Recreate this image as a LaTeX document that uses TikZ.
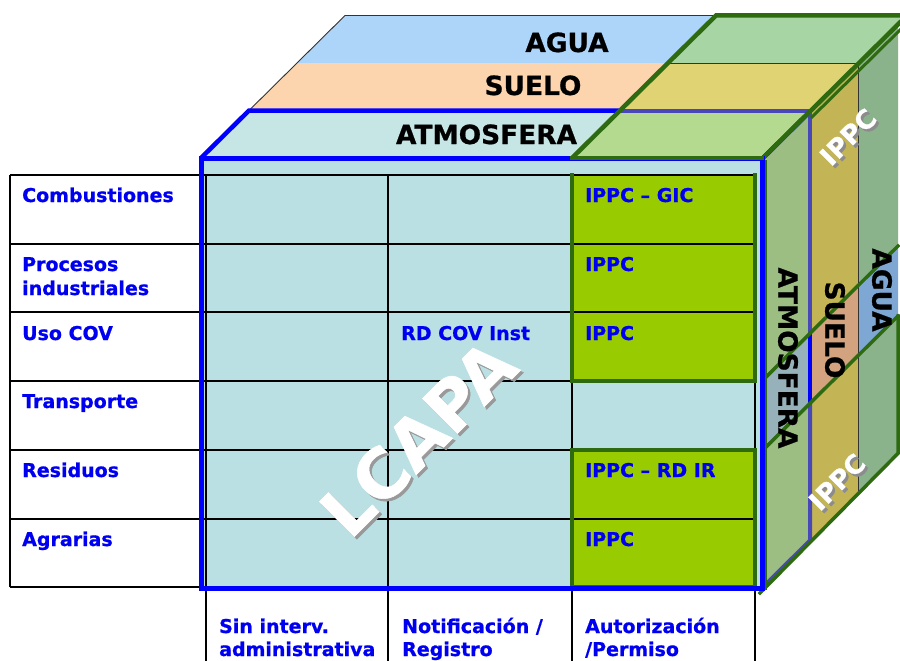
\documentclass[tikz,border=0pt]{standalone}
\usepackage{fontspec}
\setmainfont{DejaVu Sans}[BoldFeatures={FakeBold=0.8}]
\definecolor{frontfill}{HTML}{BAE0E3}
\definecolor{topAtm}{HTML}{C6E6E6}
\definecolor{topAtmG}{HTML}{B3DA8F}
\definecolor{topSue}{HTML}{FCD5AF}
\definecolor{topSueG}{HTML}{DFD374}
\definecolor{topAgu}{HTML}{ADD5FA}
\definecolor{topAguG}{HTML}{A7D6A4}
\definecolor{sideAtm}{HTML}{96B1B9}
\definecolor{sideAtmG}{HTML}{9DBE83}
\definecolor{sideSue}{HTML}{D2A37E}
\definecolor{sideSueG}{HTML}{C3B555}
\definecolor{sideAgu}{HTML}{7EA8D3}
\definecolor{sideAguG}{HTML}{8AB38C}
\definecolor{cellgreen}{HTML}{99CC00}
\definecolor{dkgreen}{HTML}{2E6B10}
\definecolor{labblue}{HTML}{0000F0}
\definecolor{mutedblue}{HTML}{4848B8}
\definecolor{brightblue}{HTML}{0000FF}
\begin{document}
\begin{tikzpicture}[x=1pt,y=-1pt,
  lab/.style={inner sep=0pt, font=\fontsize{19}{24}\selectfont\bfseries, text=labblue, anchor=base west},
  toplab/.style={inner sep=0pt, font=\fontsize{26.4}{30}\selectfont\bfseries, text=black},
  sidelab/.style={toplab, rotate=-90},
  ippc/.style={inner sep=0pt, font=\fontsize{26}{30}\selectfont\bfseries, rotate=45},
  bigl/.style={inner sep=0pt, font=\fontsize{68}{76}\selectfont\bfseries, rotate=45},
  gridl/.style={draw=black, line width=1.3pt},
  thinl/.style={draw=black!80, line width=0.9pt},
  dgreen/.style={draw=dkgreen, line width=4.5pt, line join=miter, line cap=rect},
  bluel/.style={draw=brightblue, line width=4.5pt},
  mbluel/.style={draw=mutedblue, line width=4pt}]
\clip (0,0) rectangle (900,661);
\fill[white] (0,0) rectangle (900,661);

% ---- top face bands
\fill[topAtm]  (201,158) -- (249,110.5) -- (620,110.5) -- (572,158) -- cycle;
\fill[topAtmG] (572,158) -- (620,110.5) -- (810,110.5) -- (762,158) -- cycle;
\fill[topSue]  (249,110.5) -- (297,63) -- (668,63) -- (620,110.5) -- cycle;
\fill[topSueG] (620,110.5) -- (668,63) -- (858,63) -- (810,110.5) -- cycle;
\fill[topAgu]  (297,63) -- (345,15.5) -- (716,15.5) -- (668,63) -- cycle;
\fill[topAguG] (668,63) -- (716,15.5) -- (906,15.5) -- (858,63) -- cycle;

% ---- side face bands
\fill[sideAtmG] (762,158) -- (810,110.5) -- (810,332.5) -- (762,380) -- cycle;
\fill[sideAtm]  (762,380) -- (810,332.5) -- (810,402.5) -- (762,450) -- cycle;
\fill[sideAtmG] (762,450) -- (810,402.5) -- (810,540.5) -- (762,588) -- cycle;
\fill[sideSueG] (810,110.5) -- (858,63) -- (858,285) -- (810,332.5) -- cycle;
\fill[sideSue]  (810,332.5) -- (858,285) -- (858,355) -- (810,402.5) -- cycle;
\fill[sideSueG] (810,402.5) -- (858,355) -- (858,493) -- (810,540.5) -- cycle;
\fill[sideAguG] (858,63) -- (898,23.4) -- (898,245.4) -- (858,285) -- cycle;
\fill[sideAgu]  (858,285) -- (898,245.4) -- (898,315.4) -- (858,355) -- cycle;
\fill[sideAguG] (858,355) -- (898,315.4) -- (898,453.4) -- (858,493) -- cycle;

% thin outlines of the layers
\draw[thinl] (201,158) -- (345,15.5) -- (716,15.5);
\draw[thinl] (668,63) -- (858,63) -- (858,493);

% ---- blue outline of the atmosphere slab (top and side)
\draw[bluel] (201,158) -- (249,110.5) -- (620,110.5);
\draw[mbluel] (620,110.5) -- (810,110.5);
\draw[bluel] (761,160) -- (809,112.5);
\draw[mbluel] (810,110.5) -- (810,332.5);
\draw[bluel] (810,332.5) -- (810,402.5);
\draw[mbluel] (810,402.5) -- (810,540.5) -- (762,588);

% ---- green outlines (IPPC)
\draw[dgreen] (572,158) -- (716,15.5) -- (906,15.5);
\draw[dgreen] (764,157) -- (908,14.5);
\draw[dgreen, line width=3pt] (812,117) -- (900,30);
\draw[dgreen, line width=3.5pt] (762,381) -- (898,246);
\draw[dgreen, line width=3.5pt] (762,451) -- (898,316);
\draw[dgreen, line width=3.5pt] (898,316) -- (898,453.4) -- (760,593);
\draw[dkgreen, line width=2pt] (766,160) -- (766,590);

% ---- front face
\fill[frontfill] (201,158) rectangle (762,588);
\fill[cellgreen] (572,175) rectangle (755,381);
\fill[cellgreen] (572,450) rectangle (755,587);
\foreach \y in {175,244,312,381,450,519,587} \draw[gridl] (10,\y) -- (755,\y);
\draw[gridl] (10,175) -- (10,587);
\foreach \x in {206,388,572,755} \draw[gridl] (\x,175) -- (\x,661);
\draw[dgreen, line width=4pt, line cap=butt] (572,173) -- (572,381) -- (755,381) -- (755,173);
\draw[dgreen, line width=4pt] (572,450) rectangle (755,587);
\draw[brightblue, line width=5pt] (201,158) rectangle (762,588);
\draw[dgreen] (572,158) -- (762,158);

% ---- top labels
\node[toplab, anchor=base] (tAgua) at (567,52) {AGUA};
\node[toplab, anchor=base] (tSuelo) at (533,95) {SUELO};
\node[toplab, anchor=base] (tAtm) at (486.5,144) {ATMOSFERA};

% ---- side labels
\node[sidelab] (sAtm) at (788,358) {ATMOSFERA};
\node[sidelab] (sSuelo) at (835,330) {SUELO};
\node[sidelab] (sAgua) at (882,290) {AGUA};
\node[ippc, text=black!45] (ippcTs) at (850.5,139.5) {IPPC};
\node[ippc, text=white] (ippcT) at (848,137) {IPPC};
\node[ippc, text=black!45] (ippcBs) at (839.5,484.5) {IPPC};
\node[ippc, text=white] (ippcB) at (837,482) {IPPC};

% ---- LCAPA watermark
\node[bigl, text=black!40] (lcapaS) at (420.5,440.5) {LCAPA};
\node[bigl, text=white] (lcapa) at (418,438) {LCAPA};

% ---- row labels
\node[lab] (r1) at (22,202) {Combustiones};
\node[lab] (r2a) at (22,271) {Procesos};
\node[lab] (r2b) at (22,295) {industriales};
\node[lab] (r3) at (22,340) {Uso COV};
\node[lab] (r4) at (22,408) {Transporte};
\node[lab] (r5) at (22,477) {Residuos};
\node[lab] (r6) at (22,546) {Agrarias};

% ---- cell labels
\node[lab] (c1) at (585,202) {IPPC – GIC};
\node[lab] (c2) at (585,271) {IPPC};
\node[lab] (c3) at (585,340) {IPPC};
\node[lab] (c3b) at (401,340) {RD COV Inst};
\node[lab] (c5) at (585,477) {IPPC – RD IR};
\node[lab] (c6) at (585,546) {IPPC};

% ---- column labels
\node[lab] (k1a) at (219,633) {Sin interv.};
\node[lab] (k1b) at (219,656) {administrativa};
\node[lab] (k2a) at (402,633) {Notificación /};
\node[lab] (k2b) at (402,656) {Registro};
\node[lab] (k3a) at (585,633) {Autorización};
\node[lab] (k3b) at (585,656) {/Permiso};
\end{tikzpicture}
\end{document}
